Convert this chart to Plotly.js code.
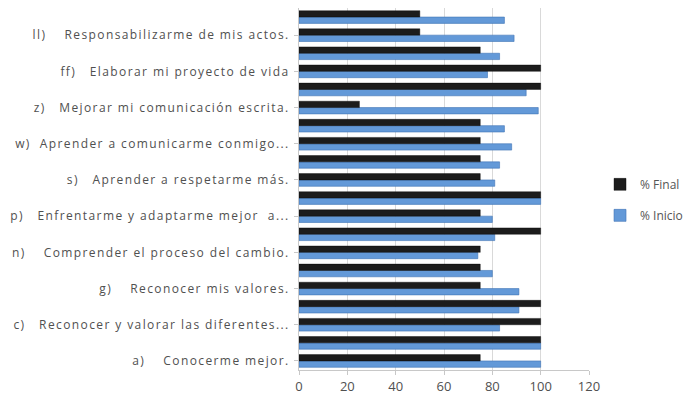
<!DOCTYPE html>
<html>
<head>
<meta charset="utf-8">
<script src="https://cdn.plot.ly/plotly-3.0.1.min.js"></script>
<style>
html,body{margin:0;padding:0;background:#fff;}
#chart{width:693px;height:400px;}
#chart .ytick text{letter-spacing:1.4px;}
</style>
</head>
<body>
<div id="chart"></div>
<script>
// 20 categories, bottom (index 0) to top (index 19); only every other one is labelled
const categoryIndex = [0,1,2,3,4,5,6,7,8,9,10,11,12,13,14,15,16,17,18,19];
const labelIndex = [0,2,4,6,8,10,12,14,16,18];
const tickLabels = [
  "a)\u00a0\u00a0\u00a0\u00a0Conocerme mejor.",
  "c)\u00a0\u00a0\u00a0Reconocer y valorar las diferentes...",
  "g)\u00a0\u00a0\u00a0\u00a0Reconocer mis valores.",
  "n)\u00a0\u00a0\u00a0\u00a0Comprender el proceso del cambio.",
  "p)\u00a0\u00a0\u00a0Enfrentarme y adaptarme mejor\u00a0\u00a0a...",
  "s)\u00a0\u00a0\u00a0Aprender a respetarme más.",
  "w)\u00a0\u00a0Aprender a comunicarme conmigo...",
  "z)\u00a0\u00a0\u00a0Mejorar mi comunicación escrita.",
  "ff)\u00a0\u00a0\u00a0Elaborar mi proyecto de vida",
  "ll)\u00a0\u00a0\u00a0\u00a0Responsabilizarme de mis actos."
];
const inicio = [100,100,83,91,91,80,74,81,80,100,81,83,88,85,99,94,78,83,89,85];
const final_ = [75,100,100,100,75,75,75,100,75,100,75,75,75,75,25,100,100,75,50,50];
const xTicks = [0,20,40,60,80,100,120];

const font = "'Open Sans', sans-serif";
const traces = [
  {type:'bar', orientation:'h', name:'% Inicio', legendgroup:'i', legendrank:2, y:categoryIndex, x:inicio,
   marker:{color:'#6399d8', line:{color:'#3f73b5', width:0.6}}},
  {type:'bar', orientation:'h', name:'% Final', legendgroup:'f', legendrank:1, y:categoryIndex, x:final_,
   marker:{color:'#1c1c1c', line:{color:'#000', width:0.4}}}
];
const layout = {
  width:693, height:400,
  margin:{l:299, r:104, t:8, b:30, pad:0, autoexpand:false},
  paper_bgcolor:'#fff', plot_bgcolor:'#fff',
  barmode:'group', bargap:0.3, bargroupgap:0,
  showlegend:true,
  legend:{x:1.038, y:0.47, xanchor:'left', yanchor:'middle', traceorder:'grouped',
          font:{family:font, size:12, color:'#555'}, itemwidth:30, tracegroupgap:12,
          bgcolor:'rgba(0,0,0,0)'},
  xaxis:{range:[0,120], tickvals:xTicks, ticktext:xTicks.map(String),
         showgrid:true, gridcolor:'#d9d9d9', gridwidth:1, zeroline:false,
         showline:true, linecolor:'#c8c8c8', ticks:'outside', ticklen:4, tickcolor:'#c8c8c8',
         tickfont:{family:font, size:13, color:'#505050'}, fixedrange:true},
  yaxis:{range:[-0.5,19.5], tickvals:labelIndex, ticktext:tickLabels,
         showgrid:false, zeroline:false, showline:true, linecolor:'#c8c8c8',
         ticks:'outside', ticklen:4, tickcolor:'#c8c8c8', ticklabelstandoff:2,
         tickfont:{family:font, size:12, color:'#505050'}, fixedrange:true}
};
Plotly.newPlot('chart', traces, layout, {displayModeBar:false, staticPlot:true});
</script>
</body>
</html>
